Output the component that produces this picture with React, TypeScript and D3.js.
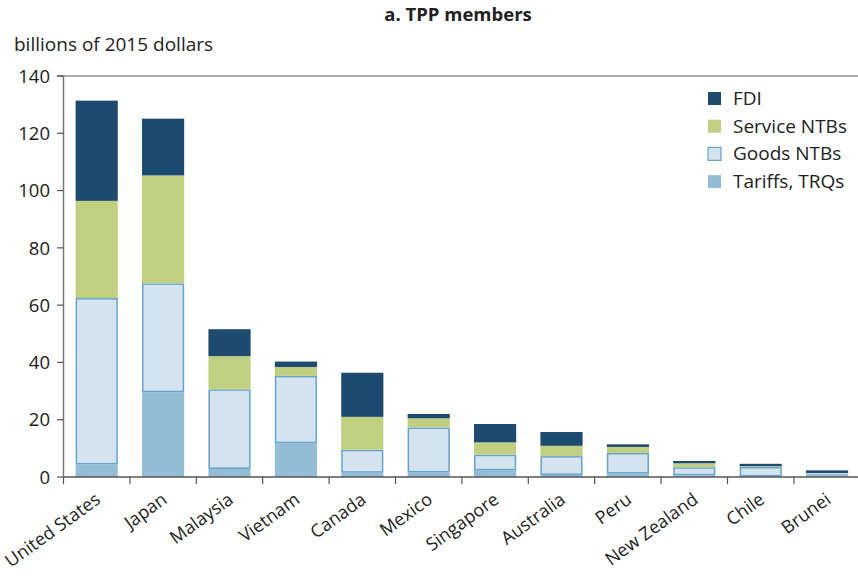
import React from 'react';
import * as d3 from 'd3';

const countries = ['United States', 'Japan', 'Malaysia', 'Vietnam', 'Canada', 'Mexico',
  'Singapore', 'Australia', 'Peru', 'New Zealand', 'Chile', 'Brunei'];
const tariffs = [4.4, 29.6, 2.8, 11.8, 1.5, 1.6, 2.3, 0.7, 1.2, 0.6, 0.2, 1.2];
const goodsNTBs = [58.1, 38.0, 27.8, 23.5, 8.0, 15.7, 5.5, 6.6, 7.2, 2.8, 3.3, 0.1];
const serviceNTBs = [33.9, 37.7, 11.6, 3.1, 11.5, 3.2, 4.3, 3.6, 2.1, 1.4, 0.3, 0.1];
const fdi = [35.0, 19.8, 9.4, 1.9, 15.4, 1.5, 6.4, 4.8, 0.9, 0.8, 0.8, 0.9];
const yTicks = [0, 20, 40, 60, 80, 100, 120, 140];

const keys = ['tariffs', 'goods', 'services', 'fdi'];
const seriesStyle = {
  tariffs: { label: 'Tariffs, TRQs', fill: '#94bcd6', stroke: 'none' },
  goods: { label: 'Goods NTBs', fill: '#d5e3ef', stroke: '#63a5d0' },
  services: { label: 'Service NTBs', fill: '#c1cf80', stroke: 'none' },
  fdi: { label: 'FDI', fill: '#1d4a70', stroke: 'none' },
};
const legendOrder = ['fdi', 'services', 'goods', 'tariffs'];

const font = '"Open Sans", sans-serif';
const width = 858;
const height = 577;
const left = 63.5;
const top = 76;
const bottom = 477;

const App = () => {
  const rows = countries.map((c, i) => ({
    country: c,
    tariffs: tariffs[i],
    goods: goodsNTBs[i],
    services: serviceNTBs[i],
    fdi: fdi[i],
  }));
  const stacked = d3.stack().keys(keys)(rows);

  const x = d3.scaleBand()
    .domain(countries)
    .range([left, left + 66.4 * countries.length])
    .paddingInner(0.365)
    .paddingOuter(0.1825);
  const y = d3.scaleLinear().domain([0, 140]).range([bottom, top]);
  const step = x.step();

  return (
    <svg width={width} height={height} style={{ position: 'absolute', left: 0, top: 0 }}
      fontFamily={font}>
      <text x={458} y={21} textAnchor="middle" fontSize={18.5} fontWeight="bold" fill="#222">
        a. TPP members
      </text>
      <text x={14} y={51} fontSize={19} fill="#222">billions of 2015 dollars</text>

      {stacked.map((s) => {
        const st = seriesStyle[s.key];
        return (
          <g key={s.key}>
            {s.map((d, i) => {
              const y0 = y(d[0]);
              const y1 = y(d[1]);
              const inset = st.stroke === 'none' ? 0 : 0.75;
              return (
                <rect
                  key={i}
                  x={x(countries[i]) + inset}
                  y={y1 + inset}
                  width={x.bandwidth() - inset * 2}
                  height={Math.max(0, y0 - y1 - inset * 2)}
                  fill={st.fill}
                  stroke={st.stroke}
                  strokeWidth={1.5}
                />
              );
            })}
          </g>
        );
      })}

      {/* axes */}
      <line x1={57} x2={width} y1={top} y2={top} stroke="#555" strokeWidth={1.2} />
      <line x1={left} x2={width} y1={bottom} y2={bottom} stroke="#555" strokeWidth={1.5} />
      <line x1={left} x2={left} y1={top} y2={bottom} stroke="#777" strokeWidth={1.5} />
      {yTicks.map((t) => (
        <g key={t}>
          <line x1={57} x2={left} y1={y(t)} y2={y(t)} stroke="#555" strokeWidth={1.2} />
          <text x={50} y={y(t)} dy="0.36em" textAnchor="end" fontSize={18.5} fill="#222">{t}</text>
        </g>
      ))}
      {countries.map((c, i) => (
        <line key={c} x1={left + step * i} x2={left + step * i} y1={bottom} y2={bottom + 7}
          stroke="#555" strokeWidth={1.2} />
      ))}
      {countries.map((c) => (
        <text key={c} transform={`translate(${x(c) + x.bandwidth() / 2 + 5},${502}) rotate(-36)`}
          textAnchor="end" fontSize={18} fill="#222">{c}</text>
      ))}

      {/* legend */}
      {legendOrder.map((k, i) => {
        const st = seriesStyle[k];
        const ly = 98 + i * 27.7;
        return (
          <g key={k}>
            <rect x={708} y={ly - 6} width={13} height={13} fill={st.fill}
              stroke={st.stroke} strokeWidth={1.2} />
            <text x={733} y={ly} dy="0.36em" fontSize={19} fill="#222">{st.label}</text>
          </g>
        );
      })}
    </svg>
  );
};

export default App;
